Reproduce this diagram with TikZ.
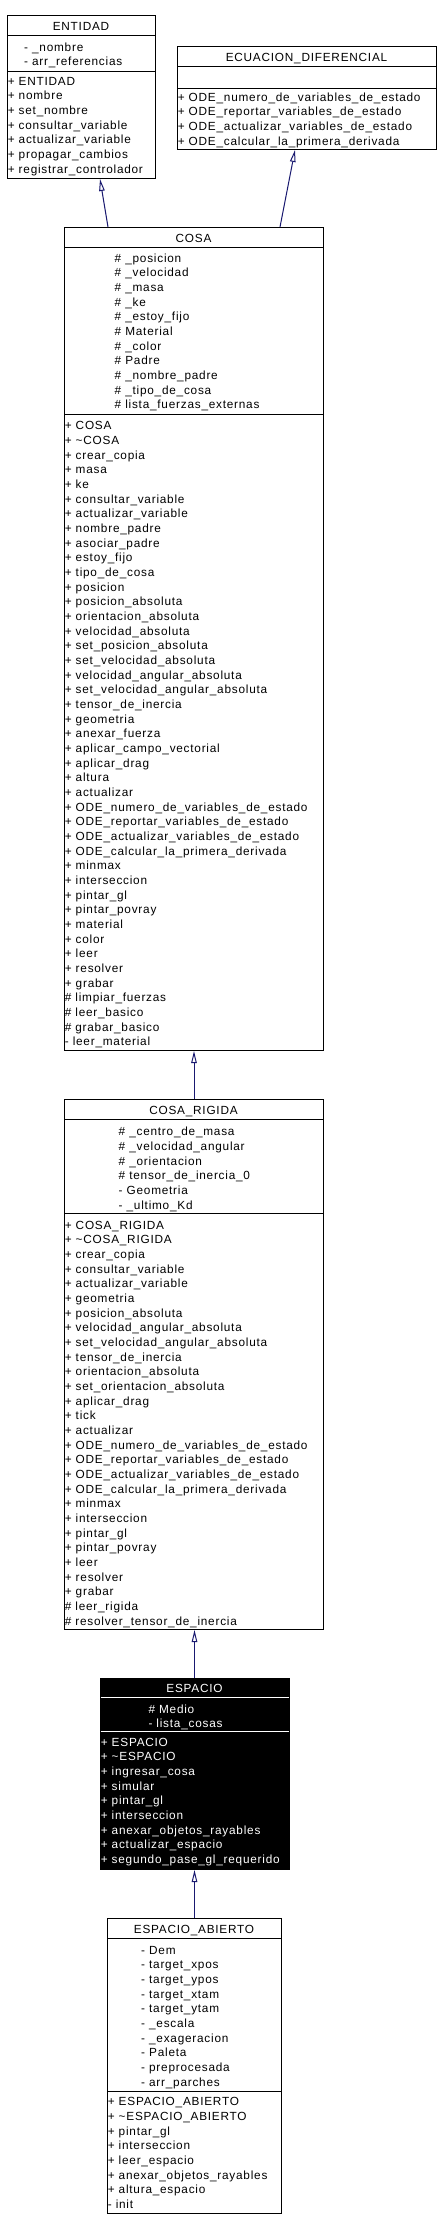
\documentclass[tikz,border=0pt]{standalone}
\usepackage{fontspec}
\usetikzlibrary{arrows.meta}
\newfontfamily\umlfam{Liberation Sans}[LetterSpace=6.5]
\newcommand\umlfont{\umlfam\fontsize{11.8pt}{14pt}\selectfont}
\definecolor{umlblue}{RGB}{25,25,112}
\tikzset{
  classbox/.style={draw=black, line width=1pt, fill=white, rectangle, inner sep=0pt, anchor=north west},
  darkbox/.style={classbox, fill=black},
  txt/.style={anchor=base west, inner sep=0pt, font=\umlfont},
  ttl/.style={anchor=base, inner sep=0pt, font=\umlfont},
  divider/.style={line width=1pt, draw=black},
  inh/.style={draw=umlblue, line width=1pt, -{Triangle[open, fill=white, length=12pt, width=5.5pt]}}
}
% #1 name prefix, #2 x, #3 first line centre y, #4 extra style, #5 list
\newcommand\umllines[5]{%
  \foreach \t [count=\i] in {#5}
    \node[txt,#4] (#1\i) at (#2, {#3+4+(\i-1)*14.67}) {\t};%
}
\begin{document}
\begin{tikzpicture}[x=1pt, y=-1pt]
\useasboundingbox (0,0) rectangle (441,2230);
\fill[white] (0,0) rectangle (441,2230);

% ---------------- ENTIDAD
\node[classbox, minimum width=148pt, minimum height=163pt] (entidad) at (7,15) {};
\draw[divider] (7,35) -- (155,35);
\draw[divider] (7,71) -- (155,71);
\node[ttl] (entidadT) at (81,30.8) {ENTIDAD};
\umllines{entA}{24}{47}{}{- \_nombre, - arr\_referencias}
\umllines{entM}{7.6}{81}{}{+ ENTIDAD, + nombre, + set\_nombre, + consultar\_variable, + actualizar\_variable, + propagar\_cambios, + registrar\_controlador}

% ---------------- ECUACION_DIFERENCIAL
\node[classbox, minimum width=259pt, minimum height=103pt] (ecuacion) at (177,46) {};
\draw[divider] (177,66) -- (436,66);
\draw[divider] (177,88) -- (436,88);
\node[ttl] (ecuacionT) at (306.5,61.8) {ECUACION\_DIFERENCIAL};
\umllines{ecuM}{177.6}{97}{}{+ ODE\_numero\_de\_variables\_de\_estado, + ODE\_reportar\_variables\_de\_estado, + ODE\_actualizar\_variables\_de\_estado, + ODE\_calcular\_la\_primera\_derivada}

% ---------------- COSA
\node[classbox, minimum width=259pt, minimum height=823pt] (cosa) at (64,227) {};
\draw[divider] (64,247) -- (323,247);
\draw[divider] (64,414) -- (323,414);
\node[ttl] (cosaT) at (193.5,242.8) {COSA};
\umllines{cosaA}{114.5}{258}{}{\# \_posicion, \# \_velocidad, \# \_masa, \# \_ke, \# \_estoy\_fijo, \# Material, \# \_color, \# Padre, \# \_nombre\_padre, \# \_tipo\_de\_cosa, \# lista\_fuerzas\_externas}
\umllines{cosaM}{64.6}{425.7}{}{+ COSA, + \textasciitilde COSA, + crear\_copia, + masa, + ke, + consultar\_variable, + actualizar\_variable, + nombre\_padre, + asociar\_padre, + estoy\_fijo, + tipo\_de\_cosa, + posicion, + posicion\_absoluta, + orientacion\_absoluta, + velocidad\_absoluta, + set\_posicion\_absoluta, + set\_velocidad\_absoluta, + velocidad\_angular\_absoluta, + set\_velocidad\_angular\_absoluta, + tensor\_de\_inercia, + geometria, + anexar\_fuerza, + aplicar\_campo\_vectorial, + aplicar\_drag, + altura, + actualizar, + ODE\_numero\_de\_variables\_de\_estado, + ODE\_reportar\_variables\_de\_estado, + ODE\_actualizar\_variables\_de\_estado, + ODE\_calcular\_la\_primera\_derivada, + minmax, + interseccion, + pintar\_gl, + pintar\_povray, + material, + color, + leer, + resolver, + grabar, \# limpiar\_fuerzas, \# leer\_basico, \# grabar\_basico, - leer\_material}

% ---------------- COSA_RIGIDA
\node[classbox, minimum width=259pt, minimum height=530pt] (cosarigida) at (64,1099) {};
\draw[divider] (64,1119) -- (323,1119);
\draw[divider] (64,1213) -- (323,1213);
\node[ttl] (cosarigidaT) at (193.5,1114.8) {COSA\_RIGIDA};
\umllines{crA}{118.5}{1131.7}{}{\# \_centro\_de\_masa, \# \_velocidad\_angular, \# \_orientacion, \# tensor\_de\_inercia\_0, - Geometria, - \_ultimo\_Kd}
\umllines{crM}{64.6}{1225}{}{+ COSA\_RIGIDA, + \textasciitilde COSA\_RIGIDA, + crear\_copia, + consultar\_variable, + actualizar\_variable, + geometria, + posicion\_absoluta, + velocidad\_angular\_absoluta, + set\_velocidad\_angular\_absoluta, + tensor\_de\_inercia, + orientacion\_absoluta, + set\_orientacion\_absoluta, + aplicar\_drag, + tick, + actualizar, + ODE\_numero\_de\_variables\_de\_estado, + ODE\_reportar\_variables\_de\_estado, + ODE\_actualizar\_variables\_de\_estado, + ODE\_calcular\_la\_primera\_derivada, + minmax, + interseccion, + pintar\_gl, + pintar\_povray, + leer, + resolver, + grabar, \# leer\_rigida, \# resolver\_tensor\_de\_inercia}

% ---------------- ESPACIO
\node[darkbox, minimum width=189pt, minimum height=191pt] (espacio) at (100,1678) {};
\draw[line width=1pt, white] (100.5,1697) -- (288.5,1697);
\draw[line width=1pt, white] (100.5,1731) -- (288.5,1731);
\node[ttl, text=white] (espacioT) at (194.5,1692.8) {ESPACIO};
\umllines{espA}{148.3}{1709}{text=white}{\# Medio, - lista\_cosas}
\umllines{espM}{100.6}{1742}{text=white}{+ ESPACIO, + \textasciitilde ESPACIO, + ingresar\_cosa, + simular, + pintar\_gl, + interseccion, + anexar\_objetos\_rayables, + actualizar\_espacio, + segundo\_pase\_gl\_requerido}

% ---------------- ESPACIO_ABIERTO
\node[classbox, minimum width=174pt, minimum height=295pt] (abierto) at (107,1918) {};
\draw[divider] (107,1938) -- (281,1938);
\draw[divider] (107,2091) -- (281,2091);
\node[ttl] (abiertoT) at (194,1933.8) {ESPACIO\_ABIERTO};
\umllines{eaA}{141}{1950}{}{- Dem, - target\_xpos, - target\_ypos, - target\_xtam, - target\_ytam, - \_escala, - \_exageracion, - Paleta, - preprocesada, - arr\_parches}
\umllines{eaM}{107.6}{2101.7}{}{+ ESPACIO\_ABIERTO, + \textasciitilde ESPACIO\_ABIERTO, + pintar\_gl, + interseccion, + leer\_espacio, + anexar\_objetos\_rayables, + altura\_espacio, - init}

% ---------------- inheritance connectors
\draw[inh] ([xshift=44pt]cosa.north west) -- ([xshift=93pt]entidad.south west);
\draw[inh] ([xshift=216pt]cosa.north west) -- ([xshift=118pt]ecuacion.south west);
\draw[inh] (cosarigida.north) -- (cosa.south);
\draw[inh] ([xshift=-0.5pt]espacio.north) -- ([xshift=-0.5pt]espacio.north |- cosarigida.south);
\draw[inh] (abierto.north) -- (abierto.north |- espacio.south);
\end{tikzpicture}
\end{document}
